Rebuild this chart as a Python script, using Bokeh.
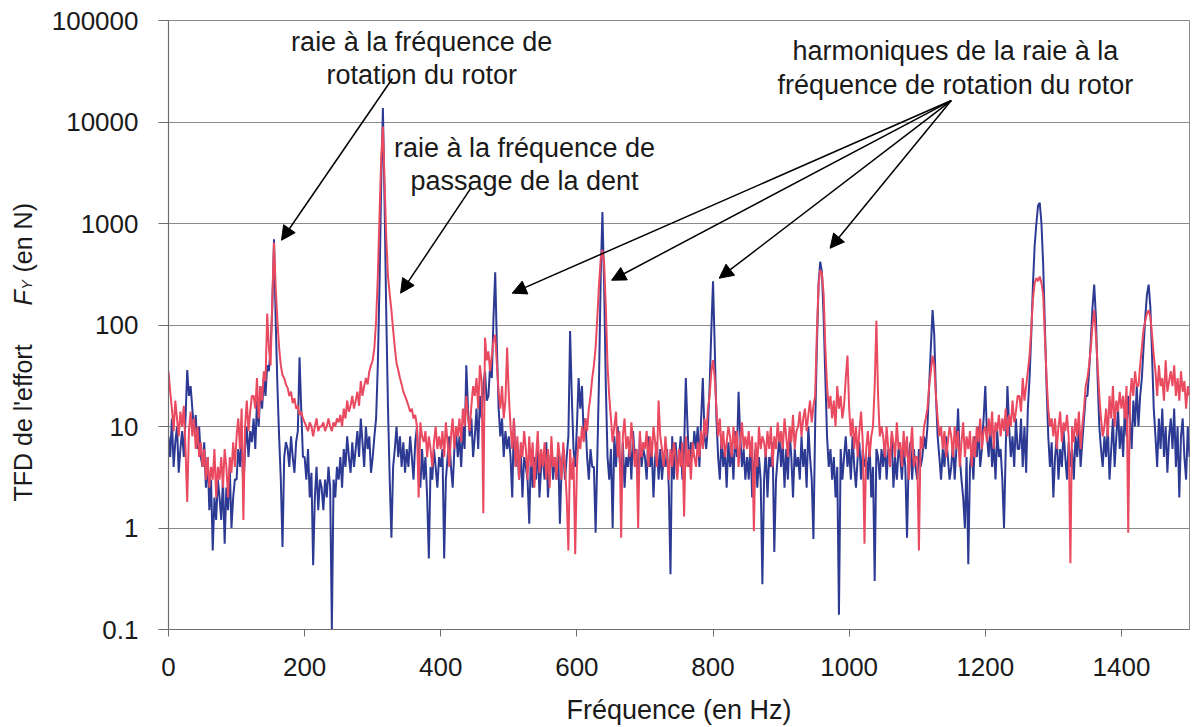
from math import pi
from bokeh.plotting import figure
from bokeh.layouts import row
from bokeh.models import (FixedTicker, CustomJSTickFormatter, Label, Arrow,
                          NormalHead, Range1d)
from bokeh.embed import file_html
from bokeh.resources import INLINE

# ---------------- data ----------------
# frequency grid: one sample every 2.5 Hz from 0 to 1500 Hz
freq_step_hz = 2.5

# blue spectrum |TFD Fy| (N), 10 samples per 25 Hz row
blue_fy = [
    8, 5, 12, 4, 7, 10, 3.5, 6, 9, 5,
    12, 36, 20, 25, 15, 9, 13, 6, 10, 5,
    4, 7, 2.5, 5, 1.5, 3, 0.6, 2, 1.2, 3,
    2, 1.2, 3, 0.7, 2.5, 1.5, 4, 1, 2, 3,
    3, 6, 4, 8, 2.5, 6, 10, 5, 9, 7,
    12, 6, 18, 10, 25, 15, 30, 20, 40, 35,
    60, 150, 700, 110, 25, 8, 3, 0.65, 5, 7,
    6, 4, 8, 5, 3.5, 7, 9, 48, 15, 5,
    5, 3, 6, 2, 3.5, 0.43, 2, 4, 1.5, 3,
    2.5, 1.5, 3, 2, 4, 2.5, 0.1, 3, 2, 4,
    3, 5, 2.5, 6, 4, 8, 5, 3.5, 7, 4,
    6, 9, 5, 12, 7, 4, 10, 6, 8, 3.5,
    5, 8, 12, 40, 250, 2500, 13700, 1500, 120, 15,
    3, 0.8, 4, 6, 10, 5, 8, 4, 7, 3.5,
    6, 4, 8, 5, 3, 7, 10, 4, 2.5, 6,
    3, 5, 2, 0.5, 4, 3, 6, 4, 2.5, 5,
    4, 6, 0.5, 3, 5, 8, 4, 2.5, 6, 9,
    5, 8, 4, 10, 6, 40, 15, 8, 12, 5,
    8, 15, 6, 20, 12, 25, 35, 18, 20, 40,
    30, 120, 330, 60, 15, 8, 12, 5, 9, 6,
    8, 5, 2, 12, 4, 7, 3, 6, 2, 5,
    4, 3, 1.1, 6, 2.5, 5, 3, 7, 2, 4,
    5, 3, 7, 2, 4, 6, 3, 5, 3, 6,
    1.1, 4, 6, 3, 5, 8, 87, 20, 6, 4,
    10, 30, 15, 25, 8, 12, 5, 3, 6, 4,
    4, 0.9, 5, 30, 300, 1300, 250, 25, 5, 3,
    6, 1.0, 8, 4, 10, 5, 3, 7, 2.5, 5,
    4, 7, 3, 9, 5, 6, 2.5, 8, 4, 6,
    5, 3, 8, 4, 6, 2, 5, 7, 3, 6,
    3, 5, 4, 6, 2.5, 0.35, 8, 3, 7, 4,
    5, 8, 3, 6, 30, 10, 4, 7, 5, 9,
    6, 10, 4, 12, 30, 8, 6, 10, 25, 90,
    270, 60, 12, 5, 3, 8, 4, 6, 2.5, 7,
    4, 6, 3, 9, 5, 22, 8, 4, 6, 3,
    5, 3, 7, 2, 4, 6, 2.5, 5, 3, 0.28,
    3, 6, 2, 5, 4, 7, 0.58, 3, 5, 8,
    4, 7, 2.5, 6, 3, 9, 5, 2, 6, 4,
    5, 3, 8, 4, 6, 2.5, 10, 5, 3, 0.78,
    10, 60, 250, 420, 330, 120, 30, 8, 4, 6,
    3, 5, 2, 4, 0.14, 6, 3, 5, 8, 4,
    6, 3, 8, 4, 2.5, 5, 7, 3, 6, 4,
    5, 3, 7, 2, 4, 0.3, 6, 5, 3, 6,
    4, 7, 3, 6, 5, 8, 2.5, 5, 3, 6,
    5, 3, 6, 4, 0.8, 5, 7, 3, 6, 4,
    3, 6, 4, 5, 8, 6, 10, 25, 60, 140,
    80, 20, 8, 5, 3, 6, 4, 8, 5, 3,
    4, 7, 3, 6, 15, 5, 3, 2, 1.0, 5,
    0.44, 4, 6, 3, 8, 5, 10, 4, 6, 12,
    25, 8, 5, 10, 4, 7, 3, 9, 5, 6,
    3, 1.0, 6, 25, 10, 5, 8, 4, 12, 6,
    6, 12, 4, 10, 3.5, 15, 30, 80, 250, 600,
    1000, 1500, 1600, 1000, 400, 100, 25, 8, 4, 7,
    2, 5, 8, 3, 6, 4, 9, 5, 3, 7,
    4, 6, 3, 8, 5, 10, 4, 7, 12, 20,
    20, 35, 70, 150, 250, 120, 30, 10, 6, 4,
    8, 5, 10, 3, 6, 12, 4, 8, 15, 6,
    10, 5, 15, 8, 20, 12, 6, 18, 10, 25,
    10, 20, 30, 60, 120, 200, 250, 150, 50, 15,
    8, 4, 12, 6, 15, 5, 10, 3.5, 8, 12,
    6, 15, 4, 10, 2, 8, 12, 5, 3, 10,
    5,
]

# red spectrum |TFD Fy| (N)
red_fy = [
    35, 22, 15, 9, 18, 12, 8, 14, 10, 16,
    6, 1.8, 9, 14, 8, 12, 6, 10, 5, 7,
    4, 6, 3, 5, 2.5, 4, 3, 6, 2, 4,
    3, 5, 2.5, 6, 4, 2, 5, 3.5, 7, 4,
    8, 12, 6, 15, 1.2, 10, 18, 9, 14, 20,
    20, 15, 30, 12, 25, 18, 35, 28, 130, 60,
    40, 180, 650, 230, 110, 60, 40, 32, 30, 26,
    24, 20, 22, 17, 19, 15, 16, 13, 14, 12,
    11, 10, 9, 11, 10, 8, 10, 12, 9, 10,
    10, 11, 9, 10, 12, 10, 9, 11, 10, 12,
    11, 13, 10, 15, 12, 18, 14, 16, 20, 15,
    18, 22, 16, 28, 20, 25, 30, 26, 35, 40,
    45, 60, 110, 300, 1200, 4500, 9000, 2500, 700, 300,
    200, 140, 90, 60, 42, 36, 30, 26, 22, 20,
    18, 16, 14, 15, 12, 13, 10, 2, 11, 8,
    7, 9, 5, 8, 6, 4, 7, 10, 6, 8,
    6, 9, 5, 11, 7, 4, 8, 12, 6, 10,
    8, 12, 7, 15, 10, 20, 12, 9, 16, 25,
    20, 30, 15, 40, 28, 1.4, 75, 45, 55, 35,
    50, 70, 80, 40, 22, 15, 25, 12, 18, 60,
    20, 10, 6, 12, 4, 8, 3, 7, 5, 9,
    6, 3, 8, 4, 7, 2.5, 5, 9, 3.5, 6,
    4, 7, 3, 6, 2.5, 8, 4, 5, 3, 7,
    5, 3, 7, 4, 2, 0.6, 6, 3, 5, 0.55,
    4, 8, 6, 10, 7, 12, 9, 15, 20, 30,
    40, 60, 120, 250, 450, 550, 400, 150, 40, 20,
    12, 7, 10, 14, 5, 9, 0.8, 8, 12, 6,
    8, 5, 11, 7, 4, 6, 1.0, 9, 5, 7,
    6, 9, 4, 8, 5, 10, 7, 4, 18, 8,
    6, 4, 8, 5, 3, 6, 4, 7, 5, 3,
    6, 4, 7, 1.3, 8, 4, 6, 3, 7, 5,
    4, 7, 5, 9, 6, 12, 8, 15, 20, 35,
    45, 30, 15, 8, 12, 6, 9, 5, 7, 10,
    8, 5, 10, 6, 9, 4, 7, 11, 6, 8,
    6, 9, 5, 8, 0.93, 7, 4, 10, 6, 8,
    7, 5, 9, 6, 10, 4, 8, 6, 11, 7,
    9, 6, 12, 8, 5, 10, 7, 13, 6, 9,
    10, 14, 8, 12, 15, 9, 13, 18, 11, 16,
    20, 80, 250, 350, 320, 200, 60, 25, 15, 20,
    12, 18, 10, 25, 15, 20, 12, 16, 30, 50,
    15, 8, 12, 6, 10, 5, 9, 14, 7, 0.7,
    6, 9, 5, 8, 10, 25, 110, 20, 8, 10,
    8, 5, 10, 6, 4, 9, 7, 5, 11, 6,
    7, 4, 9, 5, 8, 3, 6, 10, 4, 5,
    5, 0.6, 8, 6, 10, 12, 15, 25, 35, 50,
    40, 20, 12, 8, 10, 6, 9, 5, 7, 10,
    8, 5, 10, 6, 9, 4, 7, 11, 5, 8,
    6, 9, 4, 8, 5, 10, 7, 12, 6, 9,
    10, 7, 12, 8, 14, 6, 11, 9, 13, 8,
    12, 9, 15, 8, 13, 10, 18, 11, 14, 20,
    20, 14, 30, 18, 25, 35, 50, 90, 180, 260,
    290, 270, 300, 260, 200, 80, 30, 15, 10, 12,
    8, 12, 6, 10, 14, 7, 11, 9, 13, 8,
    0.45, 10, 7, 12, 8, 14, 6, 10, 15, 25,
    30, 40, 60, 100, 140, 80, 40, 20, 12, 8,
    10, 15, 8, 20, 12, 25, 10, 18, 14, 22,
    15, 20, 12, 25, 0.9, 18, 30, 20, 35, 25,
    25, 40, 60, 90, 110, 130, 140, 120, 80, 50,
    35, 20, 40, 25, 30, 18, 45, 22, 28, 35,
    25, 40, 20, 30, 18, 35, 22, 28, 15, 25,
    20,
]

x_ticks = [0, 200, 400, 600, 800, 1000, 1200, 1400]
y_ticks = [0.1, 1, 10, 100, 1000, 10000, 100000]

freq_hz = [i * freq_step_hz for i in range(len(blue_fy))]

FONT = "Liberation Sans"
TXT = "#1a1a1a"
H = 727
LAB_W = 48
FRAME_BOTTOM = 630   # page y of the plot frame's bottom edge

# ---------------- narrow strip holding the rotated y-axis title ----------------
lab = figure(width=LAB_W, height=H, x_range=Range1d(0, LAB_W),
             y_range=Range1d(0, H), output_backend="svg",
             toolbar_location=None, x_axis_location=None,
             y_axis_location=None, min_border=0, min_border_left=0,
             min_border_right=0, min_border_top=20, min_border_bottom=97)
lab.outline_line_color = None
lab.xgrid.visible = False
lab.ygrid.visible = False
lab.background_fill_color = "white"
lab.border_fill_color = "white"

ylab = dict(x_units="screen", y_units="screen", angle=pi / 2,
            text_font=FONT, text_color=TXT, text_align="left",
            text_baseline="alphabetic")
lab.add_layout(Label(x=22, y=FRAME_BOTTOM - 502, text="TFD de l'effort",
                     text_font_size="25px", **ylab))
lab.add_layout(Label(x=22, y=FRAME_BOTTOM - 306, text="F",
                     text_font_size="25px", text_font_style="italic", **ylab))
lab.add_layout(Label(x=26, y=FRAME_BOTTOM - 290, text="Y",
                     text_font_size="14px", text_font_style="italic", **ylab))
lab.add_layout(Label(x=22, y=FRAME_BOTTOM - 273, text="(en N)",
                     text_font_size="25px", **ylab))

# ---------------- main chart ----------------
p = figure(width=1192 - LAB_W, height=H, x_range=Range1d(0, 1500),
           y_range=Range1d(0.1, 100000), y_axis_type="log",
           output_backend="svg", toolbar_location=None,
           min_border_left=168 - LAB_W, min_border_right=3,
           min_border_top=20, min_border_bottom=97)
p.background_fill_color = "white"
p.border_fill_color = "white"
p.outline_line_color = "#8c8c8c"
p.outline_line_width = 1

p.xgrid.grid_line_color = None
p.ygrid.grid_line_color = "#8c8c8c"
p.ygrid.grid_line_width = 1

p.xaxis.ticker = FixedTicker(ticks=x_ticks)
p.yaxis.ticker = FixedTicker(ticks=y_ticks)
p.yaxis.formatter = CustomJSTickFormatter(
    code="return tick >= 1 ? tick.toFixed(0) : tick.toString();")

for ax in (p.xaxis[0], p.yaxis[0]):
    ax.axis_line_color = "#6e6e6e"
    ax.axis_line_width = 1.2
    ax.major_tick_line_color = "#6e6e6e"
    ax.major_tick_in = 0
    ax.minor_tick_line_color = None
    ax.major_label_text_font = FONT
    ax.major_label_text_font_size = "26px"
    ax.major_label_text_color = TXT

p.xaxis.major_tick_out = 7
p.xaxis.major_label_standoff = 21
p.yaxis.major_tick_out = 10
p.yaxis.major_label_standoff = 20

p.xaxis.axis_label = "Fréquence (en Hz)"
p.xaxis.axis_label_text_font = FONT
p.xaxis.axis_label_text_font_size = "27px"
p.xaxis.axis_label_text_font_style = "normal"
p.xaxis.axis_label_text_color = TXT
p.xaxis.axis_label_standoff = 16

# spectra
p.line(freq_hz, blue_fy, line_color="#2d3a94", line_width=2)
p.line(freq_hz, red_fy, line_color="#ea4a60", line_width=2)

# annotations (x in Hz, y in pixels above the frame bottom)
ann = dict(x_units="data", y_units="screen", text_font=FONT,
           text_font_size="27px", text_color=TXT, text_align="center",
           text_baseline="alphabetic")
annotation_lines = [
    (372, 588, "raie à la fréquence de"),
    (372, 555, "rotation du rotor"),
    (523, 482, "raie à la fréquence de"),
    (523, 449, "passage de la dent"),
    (1156, 579, "harmoniques de la raie à la"),
    (1156, 545, "fréquence de rotation du rotor"),
]
for xa, ya, t in annotation_lines:
    p.add_layout(Label(x=xa, y=ya, text=t, **ann))

arrows = [
    ((329, 26800), (166, 684)),
    ((445, 2270), (341, 206)),
    ((1150, 16270), (505, 206)),
    ((1150, 16270), (651, 276)),
    ((1150, 16270), (809, 289)),
    ((1150, 16270), (972, 570)),
]
for (xs, ys), (xe, ye) in arrows:
    p.add_layout(Arrow(
        end=NormalHead(size=14, fill_color="black", line_color="black",
                       line_width=1),
        x_start=xs, y_start=ys, x_end=xe, y_end=ye,
        line_color="black", line_width=1.5))

layout = row(lab, p, spacing=0)
open("out.html", "w").write(file_html(layout, INLINE))
